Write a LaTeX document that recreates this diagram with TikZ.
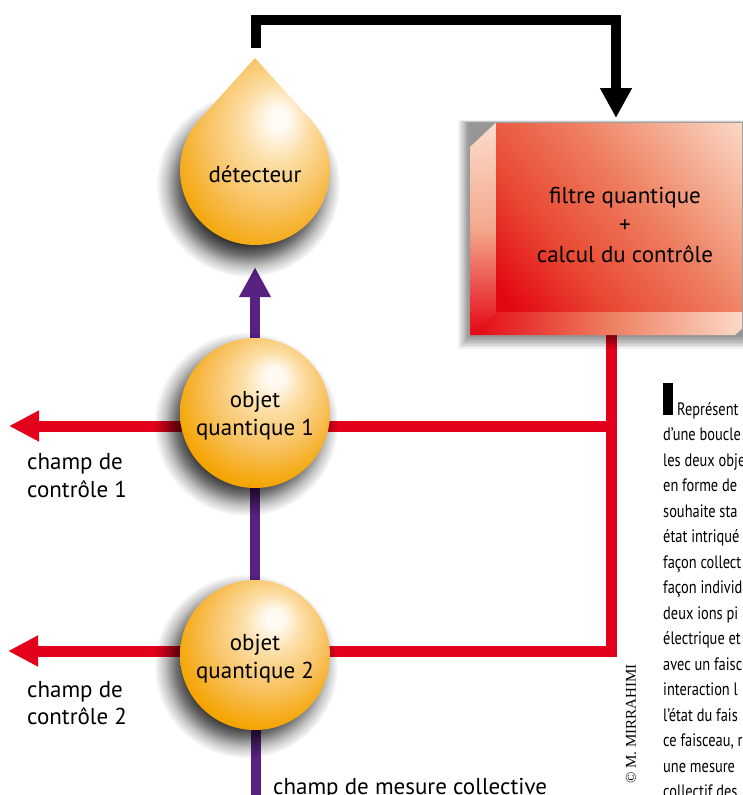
\documentclass[tikz,border=0pt]{standalone}
\usepackage{fontspec}
\setmainfont{PT Sans}
\newfontfamily\capfont[FakeStretch=0.8]{PT Sans}
\newfontfamily\copyfont{Liberation Serif}
\usetikzlibrary{arrows.meta,fadings,calc}

\definecolor{redl}{RGB}{226,0,26}
\definecolor{purp}{RGB}{88,34,128}
\definecolor{orbo}{RGB}{244,164,0}
\definecolor{orbm}{RGB}{248,192,92}
\definecolor{orbl}{RGB}{252,222,165}
\definecolor{orbw}{RGB}{255,250,242}
\definecolor{bxred}{RGB}{227,6,19}
\definecolor{bxrtwo}{RGB}{233,72,50}
\definecolor{bxmid}{RGB}{238,125,95}
\definecolor{bxlt}{RGB}{245,178,152}
\definecolor{bxpale}{RGB}{251,220,204}
\definecolor{bxbev}{RGB}{243,168,140}

\pgfdeclareradialshading{orb}{\pgfpoint{7bp}{13bp}}{color(0bp)=(orbw); color(3bp)=(orbw); color(10bp)=(orbl); color(20bp)=(orbm); color(30bp)=(orbo); color(50bp)=(orbo)}
\pgfdeclareradialshading{dropsh}{\pgfpoint{8bp}{10bp}}{color(0bp)=(orbw); color(3bp)=(orbw); color(10bp)=(orbl); color(20bp)=(orbm); color(30bp)=(orbo); color(50bp)=(orbo)}
\pgfdeclarehorizontalshading{facesh}{100bp}{color(0bp)=(bxred); color(18bp)=(bxred); color(35bp)=(bxrtwo); color(55bp)=(bxmid); color(72bp)=(bxlt); color(86bp)=(bxpale); color(100bp)=(bxpale)}
\pgfdeclareradialshading{sfadeshade}{\pgfpointorigin}{color(0bp)=(white); color(16bp)=(white); color(19bp)=(white!70!black); color(22bp)=(white!30!black); color(25bp)=(black); color(50bp)=(black)}
\pgfdeclarefading{sfade}{\pgfuseshading{sfadeshade}}

\pgfdeclarelayer{bg}
\pgfdeclarelayer{shd}
\pgfsetlayers{bg,shd,main}

\begin{document}
\begin{tikzpicture}[x=1pt,y=-1pt,
  lbl/.style={font=\fontsize{23}{28}\selectfont, inner sep=0pt, text=black},
  redline/.style={draw=redl, line width=11pt, line join=miter},
  purpline/.style={draw=purp, line width=10pt},
  blkline/.style={draw=black, line width=10.5pt, line join=miter},
  rtip/.style={-{Triangle[width=29pt,length=30pt]}},
  ptip/.style={-{Triangle[width=30pt,length=30pt]}},
  orbnode/.style={circle, minimum size=150pt, inner sep=0pt, shading=orb},
  capl/.style={font=\capfont\fontsize{18}{25.5}\selectfont, inner sep=0pt, anchor=base west, text=black},
  shadowfill/.style={fill=black, fill opacity=0.8, path fading=sfade}
]
\useasboundingbox (0,0) rectangle (742,795);
\clip (0,0) rectangle (742,795);

% ---------- coordinates ----------
\coordinate (bin) at (616,118);
\coordinate (top) at (0,20);
\coordinate (lstart) at (256,48);
\coordinate (rv) at (611,325);
\coordinate (j1) at (611,426);
\coordinate (j2) at (611,651);
\coordinate (t1) at (9,426);
\coordinate (t2) at (8,651);
\coordinate (pb) at (256,800);

% ---------- box ----------
\node[rectangle, shading=facesh, shading angle=40, minimum width=250pt, minimum height=189pt, inner sep=0pt] (box) at (621,217.5) {};
\shade[top color=bxpale, bottom color=bxred, middle color=bxbev] (box.north west) -- (470,147) -- (470,335) -- (box.south west) -- cycle;
\shade[left color=bxred, right color=bxpale, middle color=bxmid] (box.south west) -- (470,335) -- (735,335) -- (746,325) -- (box.south east) -- cycle;
\node[lbl, align=center, font=\fontsize{23}{29.5}\selectfont] (boxt) at (625,224.5) {filtre quantique\\+\\calcul du contrôle};

% ---------- detector drop ----------
\shade[shading=dropsh] (255,58) -- (199.3,119.8) arc[start angle=138, end angle=402, radius=75pt] -- cycle;
\node[circle, minimum size=150pt, inner sep=0pt] (det) at (255,170) {};
\node[lbl] (dett) at (255,174) {détecteur};

% ---------- spheres ----------
\node[orbnode] (s1) at (255,413) {};
\node[lbl, align=center] (s1t) at (255,416) {objet\\quantique 1};
\node[orbnode] (s2) at (255,655) {};
\node[lbl, align=center] (s2t) at (255,659) {objet\\quantique 2};

% ---------- labels ----------
\node[lbl, align=left, anchor=west, font=\fontsize{23}{27.5}\selectfont] (c1) at (27,475.5) {champ de\\contrôle 1};
\node[lbl, align=left, anchor=west, font=\fontsize{23}{27.5}\selectfont] (c2) at (27,703) {champ de\\contrôle 2};
\node[lbl, anchor=base west] (mes) at (273,794) {champ de mesure collective};
\node[font=\copyfont\fontsize{15}{18}\selectfont, rotate=90, inner sep=0pt] (copy) at (631,724) {© M. MIRRAHIMI};

% ---------- caption ----------
\fill[black] (663,383) rectangle (673,415);
\node[capl] (cap0) at (677,415) {Représent};
\foreach \t [count=\i] in {d’une boucle, les deux obje, en forme de, souhaite sta, état intriqué, façon collect, façon individ, deux ions pi, électrique et, avec un faisc, interaction l, l’état du fais, {ce faisceau, r}, une mesure, collectif des}
  \node[capl] (cap\i) at (663,{415+25.5*\i}) {\t};

% ---------- black feedback loop ----------
\draw[blkline, ptip] (lstart) |- (bin |- top) -- (bin);

% ---------- connectors (background) ----------
\begin{pgfonlayer}{bg}
  \fill[white] (0,0) rectangle (742,795);
  \draw[redline] (rv) -- (j2) -- (j2 -| s2);
  \draw[redline] (j1) -- (j1 -| s1);
  \draw[redline, rtip] (j1 -| s1) -- (t1);
  \draw[redline, rtip] (j2 -| s2) -- (t2);
  \draw[purpline] (pb) -- (pb |- s2);
  \draw[purpline] (s2.center) -- (s1.center);
  \draw[purpline, ptip] (s1.center) -- ([yshift=-22pt]det.south);
\end{pgfonlayer}

% ---------- shadows ----------
\begin{pgfonlayer}{shd}
  \foreach \i in {1,...,9}
    \fill[black, fill opacity=0.055] (470-1.3*\i, 123-0.3*\i) rectangle (760, 335+1.5*\i);
  \fill[shadowfill] ($(s1.center)+(-9,11)$) circle (92pt);
  \fill[shadowfill] ($(s2.center)+(-9,11)$) circle (92pt);
  \fill[shadowfill] ($(det.center)+(-7,15)$) circle (92pt);
\end{pgfonlayer}
\end{tikzpicture}
\end{document}
